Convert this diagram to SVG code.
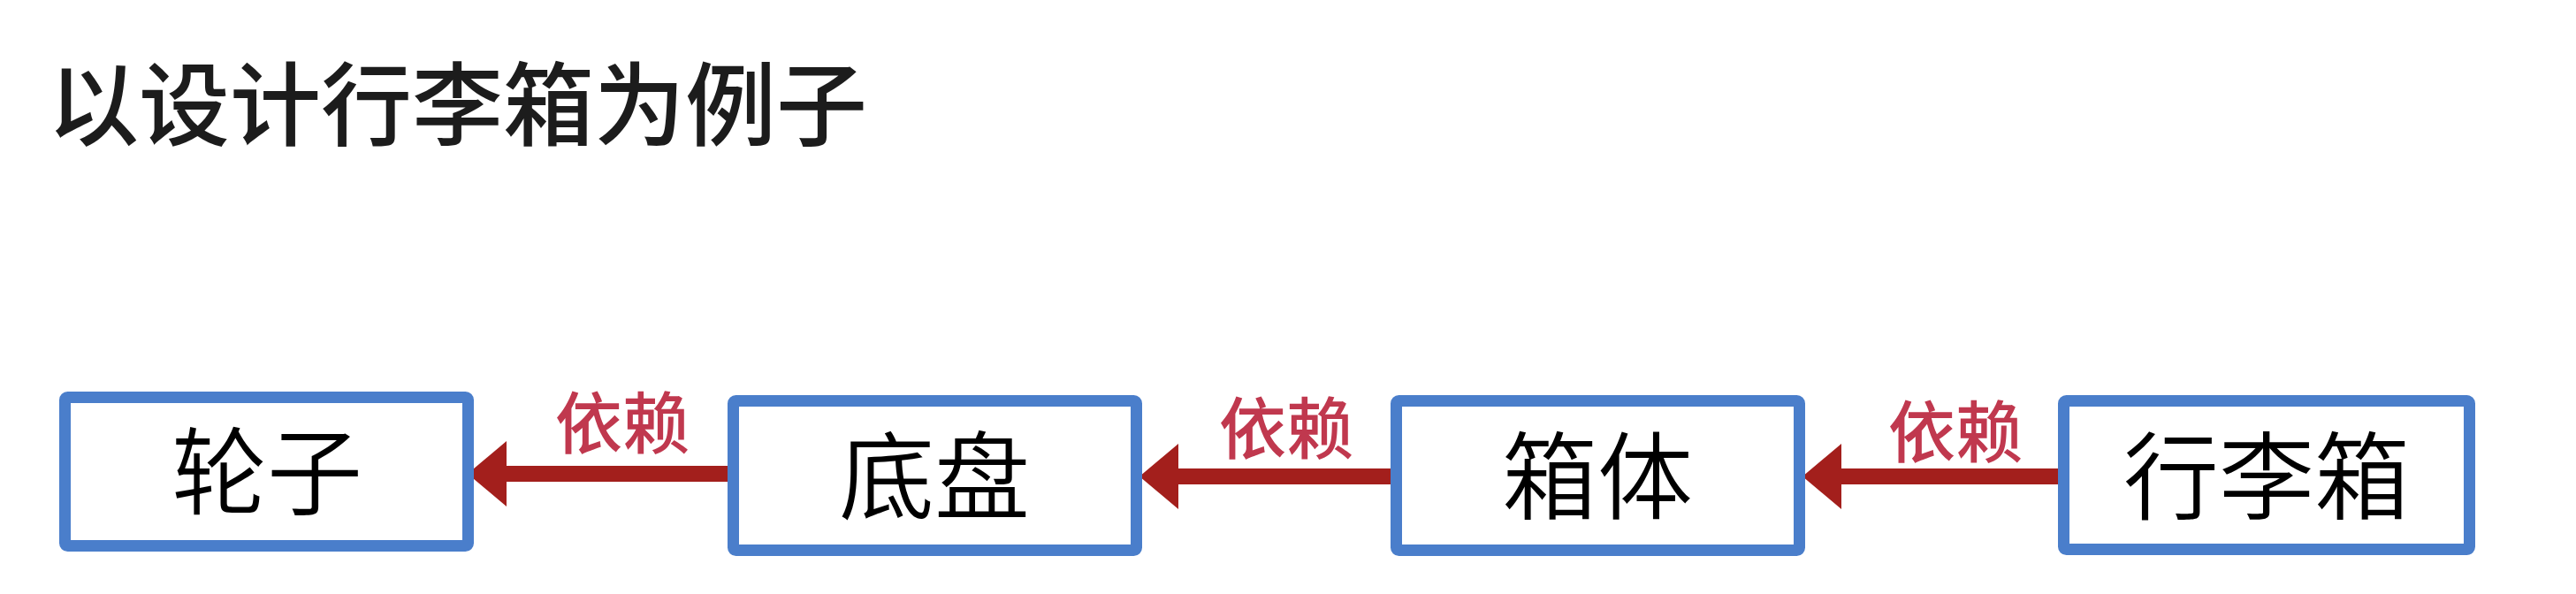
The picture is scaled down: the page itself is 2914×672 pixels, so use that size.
<svg xmlns="http://www.w3.org/2000/svg" width="2914" height="672" viewBox="0 0 2914 672">
<style>
.title{font-family:"Noto Sans CJK SC","Noto Sans",sans-serif;font-size:103px;font-weight:500;fill:#1c1c1c;}
.box{fill:#ffffff;stroke:#4a7ecb;stroke-width:13;}
.node-text{font-family:"Noto Sans CJK SC","Noto Sans",sans-serif;font-size:108px;font-weight:350;fill:#000000;text-anchor:middle;}
.edge{stroke:#a31f1c;stroke-width:18;fill:none;marker-end:url(#head);}
.edge-label{font-family:"Noto Sans CJK SC","Noto Sans",sans-serif;font-size:76px;font-weight:500;fill:#c0384e;text-anchor:middle;}
</style>
<defs>
<marker id="head" markerUnits="userSpaceOnUse" markerWidth="44" markerHeight="74" viewBox="0 0 44 74" refX="0" refY="37" orient="auto">
<path d="M0,0 L44,37 L0,74 Z" fill="#a31f1c"/>
</marker>
</defs>
<rect width="2914" height="672" fill="#ffffff"/>
<text class="title" x="54" y="157">以设计行李箱为例子</text>
<g id="connectors">
<line class="edge" x1="823" y1="536" x2="573" y2="536"/>
<line class="edge" x1="1573" y1="539" x2="1333" y2="539"/>
<line class="edge" x1="2328" y1="539" x2="2083" y2="539"/>
<text class="edge-label" x="704" y="507">依赖</text>
<text class="edge-label" x="1455" y="513">依赖</text>
<text class="edge-label" x="2212" y="517">依赖</text>
</g>
<g id="node-wheel">
<rect class="box" x="73.5" y="449.5" width="456" height="168" rx="3"/>
<text class="node-text" x="302" y="574">轮子</text>
</g>
<g id="node-chassis">
<rect class="box" x="829.5" y="453.5" width="456" height="169" rx="3"/>
<text class="node-text" x="1057" y="579">底盘</text>
</g>
<g id="node-case-body">
<rect class="box" x="1579.5" y="453.5" width="456" height="169" rx="3"/>
<text class="node-text" x="1807" y="579">箱体</text>
</g>
<g id="node-luggage">
<rect class="box" x="2334.5" y="453.5" width="459" height="168" rx="3"/>
<text class="node-text" x="2564" y="579">行李箱</text>
</g>
</svg>
